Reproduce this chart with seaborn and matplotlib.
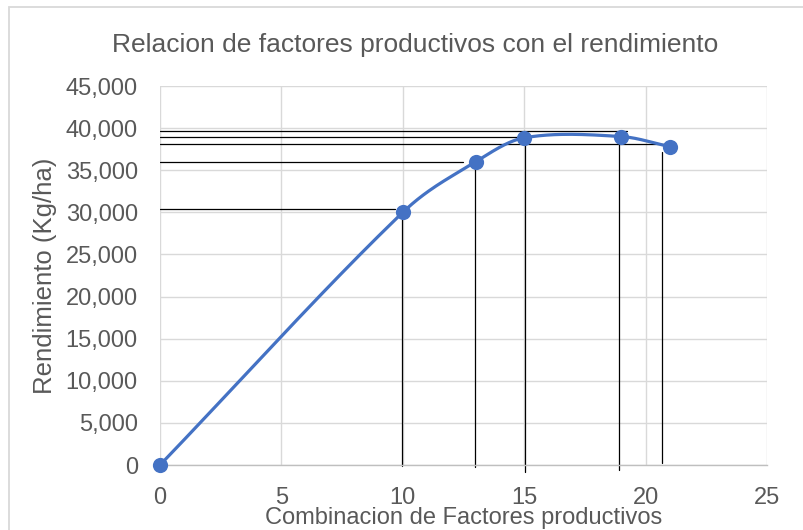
import numpy as np
import pandas as pd
import matplotlib
matplotlib.use('Agg')
import matplotlib.pyplot as plt
import seaborn as sns
from matplotlib.patches import Rectangle
from matplotlib.ticker import FuncFormatter

# Data
factores = [0, 10, 13, 15, 19, 21]
rendimiento = [0, 30000, 36000, 38850, 39000, 37800]

# Hand-drawn guide lines
hguide_y = [30400, 36000, 39600, 38900, 38100]
hguide_xend = [9.66, 12.46, 19.24, 14.97, 20.97]
vguide_x = [9.95, 12.97, 15.05, 18.92, 20.69]
vguide_top = [30000, 35400, 38100, 38200, 37200]
vguide_bottom = [-80, -240, -830, -590, 240]

title = 'Relacion de factores productivos con el rendimiento'
xlabel = 'Combinacion de Factores productivos'
ylabel = 'Rendimiento (Kg/ha)'
xticks = [0, 5, 10, 15, 20, 25]
yticks = list(range(0, 45001, 5000))

blue = '#4472C4'
grey_txt = '#595959'


def smooth_line(xs, ys, n=40):
    # piecewise cubic through the points (smoothed line look)
    x = np.asarray(xs, dtype=float)
    y = np.asarray(ys, dtype=float)
    m = np.empty_like(y)
    m[0] = (y[1] - y[0]) / (x[1] - x[0])
    m[-1] = (y[-1] - y[-2]) / (x[-1] - x[-2])
    m[1:-1] = (y[2:] - y[:-2]) / (x[2:] - x[:-2])
    px, py = [], []
    for i in range(len(x) - 1):
        h = x[i + 1] - x[i]
        t = np.linspace(0, 1, n)
        h00 = 2 * t**3 - 3 * t**2 + 1
        h10 = t**3 - 2 * t**2 + t
        h01 = -2 * t**3 + 3 * t**2
        h11 = t**3 - t**2
        yy = h00 * y[i] + h10 * h * m[i] + h01 * y[i + 1] + h11 * h * m[i + 1]
        xx = x[i] + t * h
        if i > 0:
            xx, yy = xx[1:], yy[1:]
        px.append(xx)
        py.append(yy)
    return pd.DataFrame({'x': np.concatenate(px), 'y': np.concatenate(py)})


sns.set_theme(style='whitegrid')
plt.rcParams['font.family'] = ['Liberation Sans', 'DejaVu Sans']

df = pd.DataFrame({'factores': factores, 'rendimiento': rendimiento})
curve = smooth_line(factores, rendimiento)

fig = plt.figure(figsize=(8.04, 5.30), dpi=100)
ax = fig.add_axes([0.199, 0.1226, 0.755, 0.7151])

sns.lineplot(data=curve, x='x', y='y', ax=ax, color=blue, linewidth=2.3, sort=False, zorder=3)
sns.scatterplot(data=df, x='factores', y='rendimiento', ax=ax, color=blue, s=120,
                edgecolor=blue, linewidth=0, zorder=4, clip_on=False)

# guide lines
for yv, xe in zip(hguide_y, hguide_xend):
    ax.plot([0, xe], [yv, yv], color='black', lw=0.9, zorder=2)
for xv, yt, yb in zip(vguide_x, vguide_top, vguide_bottom):
    ax.plot([xv, xv], [yb, yt], color='black', lw=0.9, zorder=2, clip_on=False)

ax.set_xlim(0, 25)
ax.set_ylim(0, 45000)
ax.set_xticks(xticks)
ax.set_yticks(yticks)
ax.yaxis.set_major_formatter(FuncFormatter(lambda v, p: f'{int(v):,}'))
ax.grid(True, color='#D9D9D9', linewidth=1.0)
for s in ['top', 'right', 'left']:
    ax.spines[s].set_visible(False)
ax.spines['bottom'].set_color('#BFBFBF')
ax.spines['bottom'].set_linewidth(1.0)
ax.tick_params(axis='both', length=0, labelsize=17, labelcolor=grey_txt, pad=16)

ax.set_xlabel('')
ax.set_ylabel('')
fig.text(0.5765, 0.011, xlabel, ha='center', va='baseline', fontsize=17, color=grey_txt)
fig.text(0.056, 0.48, ylabel, ha='center', va='center', rotation=90, fontsize=18.5, color=grey_txt)
fig.text(0.516, 0.915, title, ha='center', va='center', fontsize=19, color=grey_txt)

fig.patches.append(Rectangle((9 / 804, -0.1), 2, 1 - 7 / 530 + 0.1, transform=fig.transFigure,
                             fill=False, edgecolor='#D9D9D9', linewidth=1.3))

fig.savefig('out.png', dpi=100, facecolor='white')
